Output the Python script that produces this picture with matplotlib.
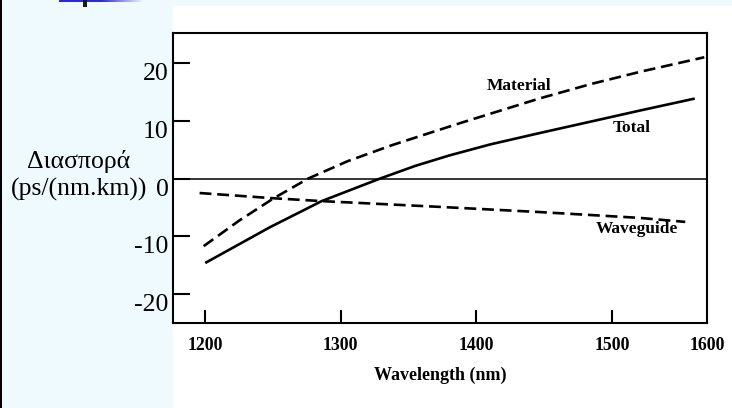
import numpy as np
import matplotlib.pyplot as plt
from matplotlib.patches import Rectangle
from matplotlib.colors import LinearSegmentedColormap
from matplotlib.transforms import ScaledTranslation

# values (wavelength in nm, dispersion in ps/(nm.km))
material_x = [1199, 1225, 1250, 1276, 1305, 1338, 1388, 1447, 1485, 1521, 1568]
material_y = [-11.7, -7.3, -3.5, 0.0, 3.0, 5.8, 9.6, 13.9, 16.4, 18.5, 21.0]
total_x = [1201, 1248, 1286, 1329, 1355, 1380, 1410, 1447, 1485, 1521, 1560]
total_y = [-14.5, -8.4, -3.9, 0.0, 2.2, 4.0, 5.9, 7.9, 9.9, 11.8, 13.8]
guide_x = [1196, 1250, 1286, 1373, 1447, 1520, 1554]
guide_y = [-2.5, -3.4, -3.9, -4.9, -5.8, -6.8, -7.5]

xticks = [1200, 1300, 1400, 1500]
xtick_labels = ['1200', '1300', '1400', '1500']
yticks = [-20, -10, 0, 10, 20]
ytick_labels = ['-20', '-10', '0', '10', '20']

plt.rcParams['font.family'] = ['Liberation Serif', 'DejaVu Serif']

W, H = 732, 408
fig = plt.figure(figsize=(W / 100, H / 100), dpi=100, facecolor='#EEFAFE')

# slide decorations
fig.add_artist(Rectangle((173 / W, 0), 1 - 173 / W, 1 - 6 / H, transform=fig.transFigure,
                         facecolor='white', edgecolor='none', zorder=-1))
fig.add_artist(Rectangle((0, 0), 2 / W, 1, transform=fig.transFigure,
                         facecolor='black', edgecolor='none'))
bar = fig.add_axes([59 / W, 1 - 2.5 / H, 85 / W, 2.5 / H])
cmap = LinearSegmentedColormap.from_list('bar', ['#2B2BD0', '#2B2BD0', '#EEFAFE'])
bar.imshow(np.linspace(0, 1, 100)[None, :], cmap=cmap, aspect='auto')
bar.axis('off')
fig.add_artist(Rectangle((83 / W, 1 - 7 / H), 4 / W, 7 / H, transform=fig.transFigure,
                         facecolor='#1a1a1a', edgecolor='none'))

ax = fig.add_axes([173 / W, 85 / H, 534 / W, 290 / H])
ax.plot(material_x, material_y, color='black', lw=1.9, dashes=(4.5, 2.2))
ax.plot(total_x, total_y, color='black', lw=1.9)
ax.plot(guide_x, guide_y, color='black', lw=1.9, dashes=(4.5, 2.2))
ax.axhline(0, color='black', lw=1.1)

ax.set_xlim(1176.4, 1570)
ax.set_ylim(-25, 25.2)
for s in ax.spines.values():
    s.set_linewidth(1.5)

ax.set_xticks(xticks)
ax.set_xticklabels(xtick_labels, fontweight='bold')
ax.set_yticks(yticks)
ax.set_yticklabels(ytick_labels)
ax.tick_params(axis='y', direction='in', length=12, width=1.5, pad=3, labelsize=18.5)
ax.tick_params(axis='x', direction='in', length=9.5, width=1.5, pad=10, labelsize=12.8)
# labels in the slide sit a little below their ticks
shift = ScaledTranslation(0, -6.2 / 72, fig.dpi_scale_trans)
for lab in ax.get_yticklabels():
    lab.set_transform(lab.get_transform() + shift)

ax.annotate('1600', xy=(1, 0), xycoords='axes fraction', xytext=(0, -10),
            textcoords='offset points', ha='center', va='top', fontsize=12.8, fontweight='bold')
ax.set_xlabel('Wavelength (nm)', fontsize=13, fontweight='bold', labelpad=9)

ax.text(1431.8, 16.0, 'Material', ha='center', va='center', fontsize=12.5, fontweight='bold')
ax.text(1514.7, 8.7, 'Total', ha='center', va='center', fontsize=12.5, fontweight='bold')
ax.text(1518, -8.8, 'Waveguide', ha='center', va='center', fontsize=12.5, fontweight='bold')

fig.text(79 / W, 1 - 168 / H, 'Διασπορά', ha='center', va='baseline', fontsize=18.5)
fig.text(79 / W, 1 - 196 / H, '(ps/(nm.km))', ha='center', va='baseline', fontsize=18.5)

fig.savefig('out.png', dpi=100, facecolor=fig.get_facecolor())
